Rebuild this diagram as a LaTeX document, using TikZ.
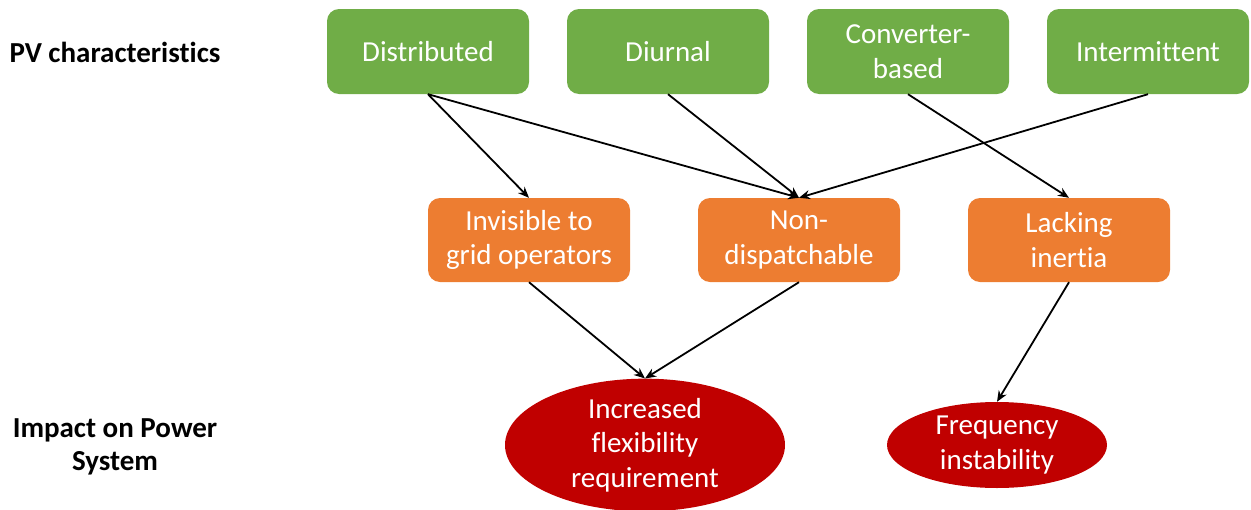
\documentclass[tikz,border=0pt]{standalone}
\usepackage{fontspec}
\setmainfont{Carlito}[Ligatures=NoCommon]
\usetikzlibrary{shapes.geometric,arrows.meta}
\definecolor{pvgreen}{HTML}{70AD47}
\definecolor{pvorange}{HTML}{ED7D31}
\definecolor{pvred}{HTML}{C00000}
\tikzset{
  txt/.style={text=white, align=center, font=\fontsize{29}{34.5}\selectfont},
  charbox/.style={txt, fill=pvgreen, rounded corners=12pt, minimum width=202pt, minimum height=85pt, inner sep=0pt},
  effbox/.style={txt, fill=pvorange, rounded corners=12pt, minimum width=202pt, minimum height=84pt, inner sep=0pt},
  impact/.style={txt, ellipse, fill=pvred, inner sep=0pt},
  rowlabel/.style={align=center, font=\bfseries\fontsize{29}{33}\selectfont},
  link/.style={-{Stealth[length=11pt,width=9pt]}, line width=1.8pt, black}
}
\begin{document}
\begin{tikzpicture}[x=1pt,y=-1pt]
\useasboundingbox (0,0) rectangle (1251,509);
% row labels
\node[rowlabel] (lab1) at (115,52) {PV characteristics};
\node[rowlabel] (lab2) at (115,447) {Impact on Power\\System};
% PV characteristics
\node[charbox] (dist) at (428,51.5) {Distributed};
\node[charbox] (diur) at (668,51.5) {Diurnal};
\node[charbox] (conv) at (908,51.5) {Converter-\\based};
\node[charbox] (inter) at (1148,51.5) {Intermittent};
% intermediate effects
\node[effbox] (invis) at (529,240) {Invisible to\\grid operators};
\node[effbox] (nondisp) at (799,240) {Non-\\dispatchable};
\node[effbox] (lack) at (1069,240) {Lacking\\inertia};
% impacts
\node[impact, minimum width=280pt, minimum height=130pt] (flex) at (645,445) {Increased\\flexibility\\requirement};
\node[impact, minimum width=220pt, minimum height=86pt] (freq) at (997,445) {Frequency\\instability};
% connectors
\draw[link] (dist.south) -- (invis.north);
\draw[link] (dist.south) -- (nondisp.north);
\draw[link] (diur.south) -- (nondisp.north);
\draw[link] (inter.south) -- (nondisp.north);
\draw[link] (conv.south) -- (lack.north);
\draw[link] (invis.south) -- (flex.north);
\draw[link] (nondisp.south) -- (flex.north);
\draw[link] (lack.south) -- (freq.north);
\end{tikzpicture}
\end{document}
